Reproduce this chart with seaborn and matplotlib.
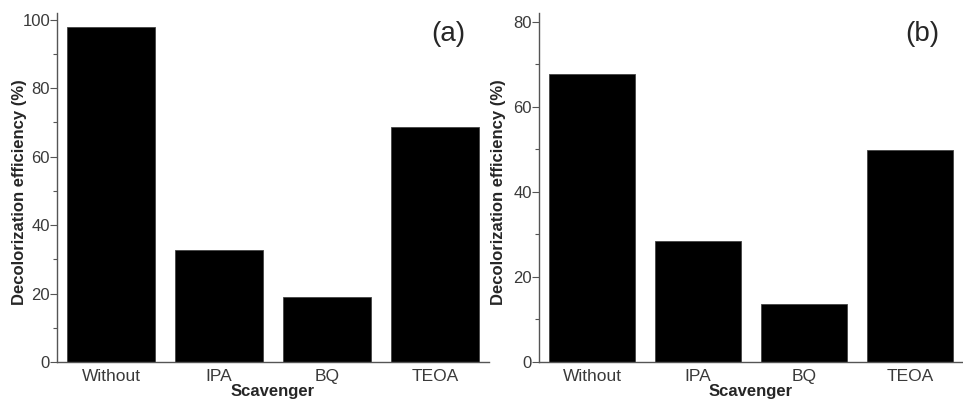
import pandas as pd
import numpy as np
import matplotlib
matplotlib.use('Agg')
import matplotlib.pyplot as plt
import seaborn as sns
from matplotlib.ticker import MultipleLocator

scavengers = ['Without', 'IPA', 'BQ', 'TEOA']
eff_a = [97.8, 32.8, 19.0, 68.8]
eff_b = [67.7, 28.4, 13.7, 49.9]
panel_labels = ['(a)', '(b)']

sns.set_theme(style='white')
plt.rcParams['font.family'] = ['Liberation Sans', 'DejaVu Sans']

fig = plt.figure(figsize=(9.63, 4.0), dpi=100)
ax1 = fig.add_axes([0.0592, 0.095, 0.4486, 0.8725])
ax2 = fig.add_axes([0.5597, 0.095, 0.4403, 0.8725])

# ylabel x anchor (axes coords)
panels = [(ax1, eff_a, 102, 20, panel_labels[0], -0.070),
          (ax2, eff_b, 82, 20, panel_labels[1], -0.078)]
for ax, vals, ytop, step, lab, ylx in panels:
    df = pd.DataFrame({'Scavenger': scavengers, 'Eff': vals})
    sns.barplot(data=df, x='Scavenger', y='Eff', color='black', saturation=1,
                width=0.81, edgecolor='#444444', linewidth=0.6, ax=ax)
    ax.set_xlim(-0.5, 3.5)
    ax.set_ylim(0, ytop)
    ax.yaxis.set_major_locator(MultipleLocator(step))
    ax.yaxis.set_minor_locator(MultipleLocator(step / 2))
    for s in ['top', 'right']:
        ax.spines[s].set_visible(False)
    for s in ['left', 'bottom']:
        ax.spines[s].set_color('#555555')
        ax.spines[s].set_linewidth(1.0)
    ax.tick_params(axis='y', which='major', direction='out', length=5, width=0.8,
                   color='#555555', labelsize=12, labelcolor='#3a3a3a', pad=0, left=True)
    ax.tick_params(axis='y', which='minor', direction='out', length=3, width=0.8,
                   color='#555555', left=True)
    ax.tick_params(axis='x', length=0, labelsize=12.5, labelcolor='#3a3a3a', pad=5)
    ax.set_xlabel('Scavenger', fontsize=12, fontweight='bold', labelpad=0)
    ax.set_ylabel('Decolorization efficiency (%)', fontsize=12, fontweight='bold')
    ax.yaxis.set_label_coords(ylx, 0.487)
    ax.text(0.905, 0.94, lab, transform=ax.transAxes, fontsize=20, ha='center', va='center')

fig.savefig('out.png', dpi=100, facecolor='white')
